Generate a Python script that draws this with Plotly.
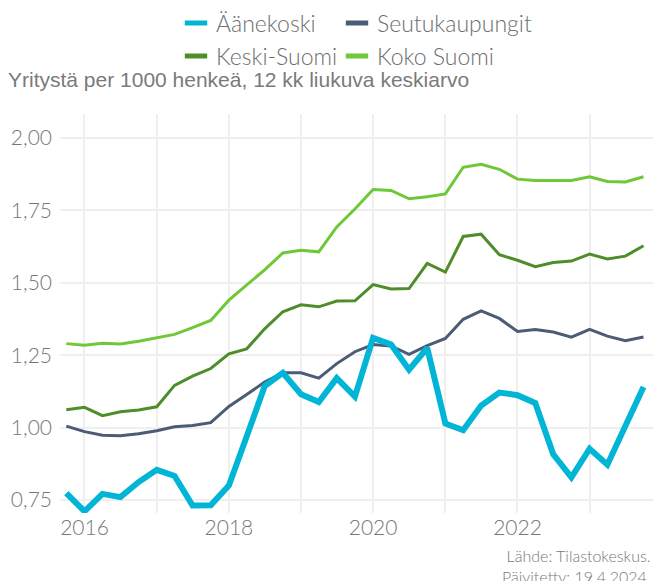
import plotly.graph_objects as go
import pandas as pd

dates = pd.date_range("2015-10-01", "2023-10-01", freq="QS").strftime("%Y-%m-%d").tolist()

aanekoski = [0.774, 0.711, 0.771, 0.760, 0.812, 0.854, 0.833, 0.731, 0.732, 0.800,
             0.969, 1.143, 1.189, 1.115, 1.088, 1.171, 1.107, 1.310, 1.287, 1.200,
             1.275, 1.014, 0.991, 1.076, 1.121, 1.112, 1.085, 0.908, 0.828, 0.927,
             0.872, 1.010, 1.140]
seutukaupungit = [1.005, 0.986, 0.974, 0.972, 0.979, 0.989, 1.003, 1.007, 1.017, 1.073,
                  1.114, 1.157, 1.189, 1.189, 1.171, 1.221, 1.262, 1.287, 1.282, 1.253,
                  1.283, 1.308, 1.374, 1.403, 1.377, 1.332, 1.339, 1.330, 1.312, 1.339,
                  1.316, 1.300, 1.313]
keski_suomi = [1.062, 1.070, 1.041, 1.055, 1.061, 1.072, 1.146, 1.178, 1.204, 1.255,
               1.272, 1.341, 1.400, 1.424, 1.417, 1.437, 1.438, 1.494, 1.479, 1.480,
               1.567, 1.537, 1.660, 1.668, 1.597, 1.578, 1.556, 1.570, 1.575, 1.599,
               1.582, 1.592, 1.628]
koko_suomi = [1.290, 1.284, 1.291, 1.289, 1.298, 1.310, 1.322, 1.345, 1.370, 1.440,
              1.492, 1.545, 1.603, 1.612, 1.607, 1.693, 1.755, 1.822, 1.819, 1.790,
              1.797, 1.807, 1.899, 1.909, 1.892, 1.858, 1.853, 1.853, 1.853, 1.866,
              1.850, 1.848, 1.866]

series_names = ["Äänekoski", "Seutukaupungit", "Keski-Suomi", "Koko Suomi"]
colors = {"Äänekoski": "#00B5D6", "Seutukaupungit": "#4B5C74",
          "Keski-Suomi": "#4F8D2B", "Koko Suomi": "#6FC837"}
widths = {"Äänekoski": 6, "Seutukaupungit": 3, "Keski-Suomi": 3, "Koko Suomi": 3}
values = {"Äänekoski": aanekoski, "Seutukaupungit": seutukaupungit,
          "Keski-Suomi": keski_suomi, "Koko Suomi": koko_suomi}

title_text = "Yritystä per 1000 henkeä, 12 kk liukuva keskiarvo"
source_text = "Lähde: Tilastokeskus.<br>Päivitetty: 19.4.2024."

FONT = "Lato Light, Lato"
TXT = "#6e6e6e"

fig = go.Figure()
# draw order: back to front
for name in ["Koko Suomi", "Keski-Suomi", "Seutukaupungit", "Äänekoski"]:
    fig.add_trace(go.Scatter(x=dates, y=values[name], mode="lines", name=name,
                             line=dict(color=colors[name], width=widths[name]),
                             showlegend=False))

legend_ids = ["legend", "legend2", "legend3", "legend4"]
for name, lid in zip(series_names, legend_ids):
    fig.add_trace(go.Scatter(x=[None], y=[None], mode="markers", name=name,
                             marker=dict(symbol="line-ew", size=16,
                                         line=dict(width=5, color=colors[name])),
                             legend=lid, showlegend=True))

W, H = 653, 581
L, R, T, B = 60, 0, 114, 581 - 513
pw = W - L - R
ph = H - T - B

def px_x(p):
    return (p - L) / pw

def px_y(p):
    return (H - B - p) / ph

leg_common = dict(orientation="h", xanchor="left", yanchor="middle",
                  font=dict(family=FONT, size=23, color=TXT, weight=300),
                  bgcolor="rgba(0,0,0,0)", borderwidth=0, itemclick=False)
pos = [(176, 23), (337, 23), (176, 56), (337, 56)]
legends = {}
for lid, (xp, yp) in zip(legend_ids, pos):
    legends[lid] = dict(leg_common, x=px_x(xp), y=px_y(yp))

fig.update_layout(
    width=W, height=H,
    margin=dict(l=L, r=R, t=T, b=B),
    paper_bgcolor="white", plot_bgcolor="white",
    separators=", ",
    font=dict(family=FONT, color=TXT),
    title=dict(text=title_text, x=8 / W, xanchor="left", xref="container",
               y=1 - 80 / H, yanchor="middle", yref="container",
               font=dict(family="Liberation Sans", size=21, color="#7a7a7a", weight=400)),
    xaxis=dict(type="date", range=["2015-08-30", "2023-11-18"],
               tick0="2016-01-01", dtick="M24", tickformat="%Y",
               showgrid=True, gridcolor="#efefef", gridwidth=1.5,
               minor=dict(dtick="M12", showgrid=True, gridcolor="#efefef", gridwidth=1.5),
               zeroline=False, showline=False, ticks="",
               tickfont=dict(family=FONT, size=21, color="#777777", weight=300)),
    yaxis=dict(range=[0.7051, 2.0829], dtick=0.25, tick0=0, tickformat=".2f",
               showgrid=True, gridcolor="#efefef", gridwidth=1.5,
               zeroline=False, showline=False, ticks="", ticklabelstandoff=7,
               tickfont=dict(family=FONT, size=21, color="#777777", weight=300)),
    annotations=[dict(text=source_text, xref="paper", yref="paper",
                      x=1.0, y=px_y(566), xanchor="right", yanchor="middle",
                      align="right", showarrow=False,
                      font=dict(family=FONT, size=16, color="#777777", weight=300))],
    **legends,
)

fig.write_html("out.html", config={"displayModeBar": False},
               post_script="document.body.style.margin='0';"
                           "document.body.style.overflow='hidden';")
